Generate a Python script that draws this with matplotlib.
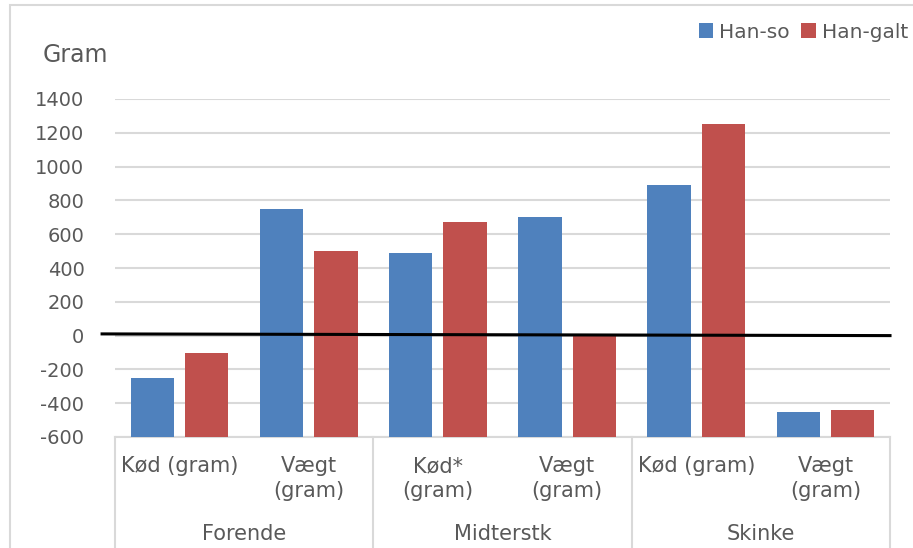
import numpy as np
import matplotlib.pyplot as plt
from matplotlib.patches import Rectangle
from matplotlib.lines import Line2D

# data
cuts = ["Forende", "Midterstk", "Skinke"]
measures = ["Kød (gram)", "Vægt\n(gram)", "Kød*\n(gram)", "Vægt\n(gram)", "Kød (gram)", "Vægt\n(gram)"]
han_so = [-250, 750, 490, 700, 890, -450]
han_galt = [-100, 500, 670, 0, 1250, -440]
yticks = list(range(-600, 1401, 200))
base = -600  # value axis crosses at the bottom

blue = "#4F81BD"
red = "#C0504D"
grid_c = "#D9D9D9"
txt_c = "#595959"

fig = plt.figure(figsize=(9.13, 5.48), dpi=100)
W, H = 913, 548
ax = fig.add_axes([115 / W, 1 - 437 / H, (890 - 115) / W, (437 - 99) / H])

x = np.arange(len(measures))
w = 0.335
off = 0.21
ax.bar(x - off, np.array(han_so) - base, w, bottom=base, color=blue, label="Han-so", zorder=3)
ax.bar(x + off, np.array(han_galt) - base, w, bottom=base, color=red, label="Han-galt", zorder=3)

ax.set_xlim(-0.5, len(measures) - 0.5)
ax.set_ylim(yticks[0], yticks[-1])
ax.set_yticks(yticks)
ax.set_yticklabels([str(v) for v in yticks], fontsize=14, color=txt_c)
ax.tick_params(axis="y", length=0, pad=22)
ax.set_xticks([])
for s in ["left", "right", "top"]:
    ax.spines[s].set_visible(False)
ax.spines["bottom"].set_color(grid_c)
ax.spines["bottom"].set_linewidth(1.5)
ax.yaxis.grid(True, color=grid_c, linewidth=1.5, zorder=0)
ax.set_axisbelow(True)

# black reference line at zero
ax.add_line(Line2D([-0.6, 5.5], [10, 0], color="black", linewidth=2.2,
                   zorder=5, clip_on=False))

# two-level category axis
xt = ax.get_xaxis_transform()
for i, lab in enumerate(measures):
    ax.text(i, -0.056, lab, transform=xt, ha="center", va="top",
            fontsize=15, color=txt_c, linespacing=1.32)
for g, name in enumerate(cuts):
    ax.text(2 * g + 0.5, -0.286, name, transform=xt, ha="center", va="center",
            fontsize=15, color=txt_c)
for xs in [-0.5, 1.5, 3.5, 5.5]:
    ax.add_line(Line2D([xs, xs], [0, -0.4], transform=xt, color=grid_c,
                       linewidth=1.5, clip_on=False))

# axis title
fig.text(43 / W, 1 - 55 / H, "Gram", fontsize=17, color=txt_c, ha="left", va="center")

ax.legend(loc="center right", bbox_to_anchor=(926 / W, 1 - 32 / H),
          bbox_transform=fig.transFigure, ncol=2, frameon=False,
          fontsize=14.5, handlelength=0.7, handleheight=0.7,
          handletextpad=0.3, columnspacing=0.6, labelcolor=txt_c)

# chart border
fig.patches.append(Rectangle((10 / W, -0.1), 1.2, 1.1 - 5 / H, transform=fig.transFigure,
                             fill=False, edgecolor=grid_c, linewidth=1.5))

fig.savefig("out.png", dpi=100)
